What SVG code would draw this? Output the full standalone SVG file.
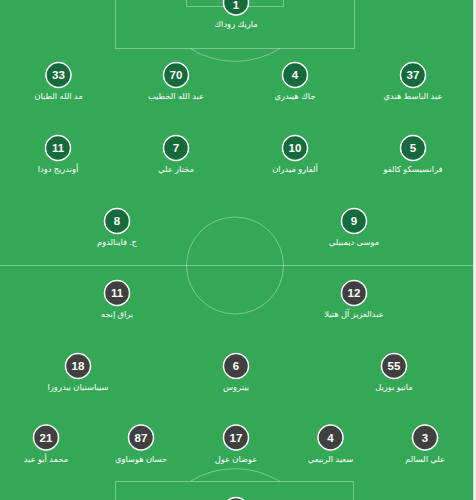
<svg xmlns="http://www.w3.org/2000/svg" width="476" height="500" viewBox="0 0 476 500">
<style>
.pitch{fill:#35a857}
.ln{fill:none;stroke:#ffffff;stroke-opacity:0.35;stroke-width:1}
.home{fill:#166a3c;stroke:#ffffff;stroke-width:1.5}
.away{fill:#404040;stroke:#ffffff;stroke-width:1.5}
.num{fill:#ffffff;font-family:"Liberation Sans","DejaVu Sans",sans-serif;font-size:11.5px;font-weight:bold;text-anchor:middle}
.nm{fill:#ffffff;font-family:"Liberation Sans","DejaVu Sans","Noto Sans",sans-serif;font-size:8.3px;text-anchor:middle}
</style>
<rect x="0" y="0" width="476" height="500" fill="#f0f0f0"/>
<rect class="pitch" x="0" y="0" width="473" height="500"/>
<line x1="473.5" y1="0" x2="473.5" y2="500" stroke="#e0e0e0" stroke-width="1"/>
<g id="markings">
<rect class="ln" x="115.5" y="-20" width="239" height="68.5"/>
<rect class="ln" x="186.5" y="-20" width="97" height="26.5"/>
<path class="ln" d="M190 48.5 A85 85 0 0 0 280 48.5"/>
<line class="ln" x1="0" y1="265.5" x2="473" y2="265.5"/>
<circle class="ln" cx="235" cy="265.5" r="48.5"/>
<rect class="ln" x="115.5" y="481.5" width="238" height="40"/>
<path class="ln" d="M190 481.5 A85 85 0 0 1 280 481.5"/>
</g>
<g id="connectors"></g>
<g id="h1"><circle class="home" cx="236" cy="2.5" r="12.5"/><text class="num" x="236" y="8.5">1</text><text class="nm" x="236" y="27">ماريك روداك</text></g>
<g id="h33"><circle class="home" cx="58.5" cy="75" r="12.5"/><text class="num" x="58.5" y="79">33</text><text class="nm" x="58.5" y="99">مد الله الطيان</text></g>
<g id="h70"><circle class="home" cx="176" cy="75" r="12.5"/><text class="num" x="176" y="79">70</text><text class="nm" x="176" y="99">عبد الله الخطيب</text></g>
<g id="h4"><circle class="home" cx="295" cy="75" r="12.5"/><text class="num" x="295" y="79">4</text><text class="nm" x="295" y="99">جاك هيندري</text></g>
<g id="h37"><circle class="home" cx="413" cy="75" r="12.5"/><text class="num" x="413" y="79">37</text><text class="nm" x="413" y="99">عبد الباسط هندي</text></g>
<g id="h11"><circle class="home" cx="58" cy="148" r="12.5"/><text class="num" x="58" y="152">11</text><text class="nm" x="58" y="172">أوندريج دودا</text></g>
<g id="h7"><circle class="home" cx="176" cy="148" r="12.5"/><text class="num" x="176" y="152">7</text><text class="nm" x="176" y="172">مختار علي</text></g>
<g id="h10"><circle class="home" cx="295" cy="148" r="12.5"/><text class="num" x="295" y="152">10</text><text class="nm" x="295" y="172">ألفارو ميدران</text></g>
<g id="h5"><circle class="home" cx="413" cy="148" r="12.5"/><text class="num" x="413" y="152">5</text><text class="nm" x="413" y="172">فرانسيسكو كالفو</text></g>
<g id="h8"><circle class="home" cx="117" cy="221" r="12.5"/><text class="num" x="117" y="225">8</text><text class="nm" x="117" y="245">ج. فاينالدوم</text></g>
<g id="h9"><circle class="home" cx="354" cy="221" r="12.5"/><text class="num" x="354" y="225">9</text><text class="nm" x="354" y="245">موسى ديمبيلي</text></g>
<g id="a11"><circle class="away" cx="117" cy="293" r="12.5"/><text class="num" x="117" y="297">11</text><text class="nm" x="117" y="317">براق إنجه</text></g>
<g id="a12"><circle class="away" cx="354" cy="293" r="12.5"/><text class="num" x="354" y="297">12</text><text class="nm" x="354" y="317">عبدالعزيز آل هتيلا</text></g>
<g id="a18"><circle class="away" cx="78" cy="366" r="12.5"/><text class="num" x="78" y="370">18</text><text class="nm" x="78" y="390">سيباستيان بيدروزا</text></g>
<g id="a6"><circle class="away" cx="236" cy="366" r="12.5"/><text class="num" x="236" y="370">6</text><text class="nm" x="236" y="390">بيتروس</text></g>
<g id="a55"><circle class="away" cx="394" cy="366" r="12.5"/><text class="num" x="394" y="370">55</text><text class="nm" x="394" y="390">ماتيو بوريل</text></g>
<g id="a21"><circle class="away" cx="46" cy="437.5" r="12.5"/><text class="num" x="46" y="441.5">21</text><text class="nm" x="46" y="461.5">محمد أبو عبد</text></g>
<g id="a87"><circle class="away" cx="141" cy="437.5" r="12.5"/><text class="num" x="141" y="441.5">87</text><text class="nm" x="141" y="461.5">حسان هوساوي</text></g>
<g id="a17"><circle class="away" cx="236" cy="437.5" r="12.5"/><text class="num" x="236" y="441.5">17</text><text class="nm" x="236" y="461.5">عوضان عول</text></g>
<g id="a4"><circle class="away" cx="330.5" cy="437.5" r="12.5"/><text class="num" x="330.5" y="441.5">4</text><text class="nm" x="330.5" y="461.5">سعيد الربيعي</text></g>
<g id="a3"><circle class="away" cx="425" cy="437.5" r="12.5"/><text class="num" x="425" y="441.5">3</text><text class="nm" x="425" y="461.5">علي السالم</text></g>
<g id="a1"><circle class="away" cx="236" cy="510" r="12.5"/></g>
</svg>
